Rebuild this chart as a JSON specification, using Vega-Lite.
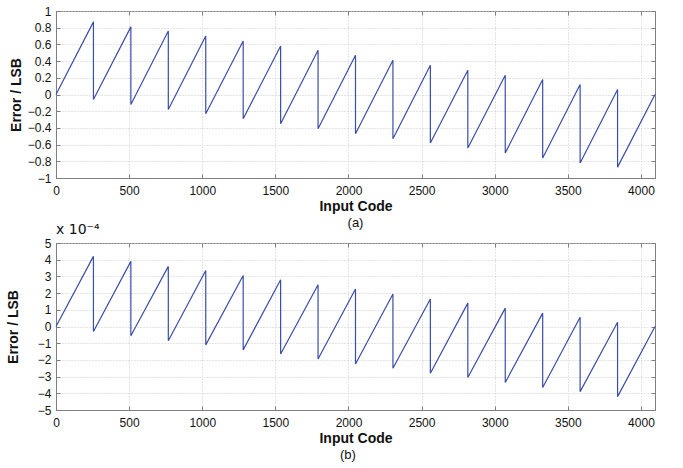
{
  "$schema": "https://vega.github.io/schema/vega-lite/v6.json",
  "padding": {"left": 5, "top": 4, "right": 10, "bottom": 4},
  "background": "white",
  "spacing": -9,
  "datasets": {
    "a": [
      {"i": 0, "code": 0, "err": 0},
      {"i": 1, "code": 256, "err": 0.87}, {"i": 2, "code": 256, "err": -0.06},
      {"i": 3, "code": 512, "err": 0.81}, {"i": 4, "code": 512, "err": -0.12},
      {"i": 5, "code": 768, "err": 0.76}, {"i": 6, "code": 768, "err": -0.18},
      {"i": 7, "code": 1024, "err": 0.70}, {"i": 8, "code": 1024, "err": -0.23},
      {"i": 9, "code": 1280, "err": 0.64}, {"i": 10, "code": 1280, "err": -0.29},
      {"i": 11, "code": 1536, "err": 0.58}, {"i": 12, "code": 1536, "err": -0.35},
      {"i": 13, "code": 1792, "err": 0.53}, {"i": 14, "code": 1792, "err": -0.41},
      {"i": 15, "code": 2048, "err": 0.47}, {"i": 16, "code": 2048, "err": -0.47},
      {"i": 17, "code": 2304, "err": 0.41}, {"i": 18, "code": 2304, "err": -0.53},
      {"i": 19, "code": 2560, "err": 0.35}, {"i": 20, "code": 2560, "err": -0.58},
      {"i": 21, "code": 2816, "err": 0.29}, {"i": 22, "code": 2816, "err": -0.64},
      {"i": 23, "code": 3072, "err": 0.23}, {"i": 24, "code": 3072, "err": -0.70},
      {"i": 25, "code": 3328, "err": 0.18}, {"i": 26, "code": 3328, "err": -0.76},
      {"i": 27, "code": 3584, "err": 0.12}, {"i": 28, "code": 3584, "err": -0.82},
      {"i": 29, "code": 3840, "err": 0.06}, {"i": 30, "code": 3840, "err": -0.87},
      {"i": 31, "code": 4096, "err": 0}
    ],
    "b": [
      {"i": 0, "code": 0, "err": 0},
      {"i": 1, "code": 256, "err": 0.00042}, {"i": 2, "code": 256, "err": -0.00003},
      {"i": 3, "code": 512, "err": 0.00039}, {"i": 4, "code": 512, "err": -0.000055},
      {"i": 5, "code": 768, "err": 0.00036}, {"i": 6, "code": 768, "err": -0.000085},
      {"i": 7, "code": 1024, "err": 0.000335}, {"i": 8, "code": 1024, "err": -0.00011},
      {"i": 9, "code": 1280, "err": 0.000305}, {"i": 10, "code": 1280, "err": -0.00014},
      {"i": 11, "code": 1536, "err": 0.00028}, {"i": 12, "code": 1536, "err": -0.000165},
      {"i": 13, "code": 1792, "err": 0.00025}, {"i": 14, "code": 1792, "err": -0.000195},
      {"i": 15, "code": 2048, "err": 0.000225}, {"i": 16, "code": 2048, "err": -0.000225},
      {"i": 17, "code": 2304, "err": 0.000195}, {"i": 18, "code": 2304, "err": -0.00025},
      {"i": 19, "code": 2560, "err": 0.000165}, {"i": 20, "code": 2560, "err": -0.00028},
      {"i": 21, "code": 2816, "err": 0.00014}, {"i": 22, "code": 2816, "err": -0.000305},
      {"i": 23, "code": 3072, "err": 0.00011}, {"i": 24, "code": 3072, "err": -0.000335},
      {"i": 25, "code": 3328, "err": 0.00008}, {"i": 26, "code": 3328, "err": -0.000365},
      {"i": 27, "code": 3584, "err": 0.000055}, {"i": 28, "code": 3584, "err": -0.00039},
      {"i": 29, "code": 3840, "err": 0.000025}, {"i": 30, "code": 3840, "err": -0.00042},
      {"i": 31, "code": 4096, "err": 0}
    ]
  },
  "config": {
    "font": "Liberation Sans",
    "view": {"stroke": "#7f7f7f", "strokeWidth": 1},
    "axis": {
      "labelFont": "Liberation Sans",
      "labelFontSize": 12,
      "labelColor": "#111",
      "labelOverlap": false,
      "titleFont": "Liberation Sans",
      "titleFontSize": 14,
      "titleFontWeight": "bold",
      "titleColor": "#111",
      "domainColor": "#7f7f7f",
      "tickColor": "#7f7f7f",
      "tickSize": -4,
      "labelPadding": 9,
      "grid": true,
      "gridColor": "#c8c8c8",
      "gridDash": [1, 2],
      "gridWidth": 1
    }
  },
  "title": {"text": "(b)", "orient": "bottom", "anchor": "middle", "fontSize": 13, "fontWeight": "normal", "font": "Liberation Sans", "color": "#111", "dx": 16, "offset": 3},
  "vconcat": [
    {
      "width": 599,
      "height": 167,
      "data": {"name": "a"},
      "title": {"text": "(a)", "orient": "bottom", "frame": "group", "anchor": "middle", "fontSize": 13, "fontWeight": "normal", "color": "#111", "offset": 4},
      "layer": [
        {
          "mark": {"type": "line", "color": "#3b4ea8", "strokeWidth": 1.2},
          "encoding": {
            "x": {"field": "code", "type": "quantitative", "scale": {"domain": [0, 4096], "nice": false}, "axis": {"title": "Input Code", "values": [0, 500, 1000, 1500, 2000, 2500, 3000, 3500, 4000], "format": "d", "titlePadding": 3, "labelPadding": 11, "labelFlush": false}},
            "y": {"field": "err", "type": "quantitative", "scale": {"domain": [-1, 1], "nice": false}, "axis": {"title": "Error / LSB", "values": [-1, -0.8, -0.6, -0.4, -0.2, 0, 0.2, 0.4, 0.6, 0.8, 1], "format": "~g", "titlePadding": 4, "labelFlush": false}},
            "order": {"field": "i", "type": "quantitative"}
          }
        },
        {
          "mark": {"type": "line", "opacity": 0},
          "encoding": {
            "x": {"field": "code", "type": "quantitative", "scale": {"domain": [0, 4096], "nice": false}, "axis": {"orient": "top", "title": null, "labels": false, "grid": false, "domain": false, "values": [0, 500, 1000, 1500, 2000, 2500, 3000, 3500, 4000]}},
            "y": {"field": "err", "type": "quantitative", "scale": {"domain": [-1, 1], "nice": false}, "axis": {"orient": "right", "title": null, "labels": false, "grid": false, "domain": false, "values": [-1, -0.8, -0.6, -0.4, -0.2, 0, 0.2, 0.4, 0.6, 0.8, 1]}},
            "order": {"field": "i", "type": "quantitative"}
          }
        }
      ],
      "resolve": {"axis": {"x": "independent", "y": "independent"}}
    },
    {
      "width": 599,
      "height": 167,
      "data": {"name": "b"},
      "title": {"text": "x 10⁻⁴", "orient": "top", "frame": "group", "anchor": "start", "fontSize": 14, "fontWeight": "normal", "font": "DejaVu Sans", "color": "#111", "offset": 0},
      "layer": [
        {
          "mark": {"type": "line", "color": "#3b4ea8", "strokeWidth": 1.2},
          "encoding": {
            "x": {"field": "code", "type": "quantitative", "scale": {"domain": [0, 4096], "nice": false}, "axis": {"title": "Input Code", "values": [0, 500, 1000, 1500, 2000, 2500, 3000, 3500, 4000], "format": "d", "titlePadding": 3, "labelPadding": 11, "labelFlush": false}},
            "y": {"field": "err", "type": "quantitative", "scale": {"domain": [-0.0005, 0.0005], "nice": false}, "axis": {"title": "Error / LSB", "values": [-0.0005, -0.0004, -0.0003, -0.0002, -0.0001, 0, 0.0001, 0.0002, 0.0003, 0.0004, 0.0005], "labelExpr": "format(round(datum.value*10000), 'd')", "titlePadding": 17, "labelFlush": false}},
            "order": {"field": "i", "type": "quantitative"}
          }
        },
        {
          "mark": {"type": "line", "opacity": 0},
          "encoding": {
            "x": {"field": "code", "type": "quantitative", "scale": {"domain": [0, 4096], "nice": false}, "axis": {"orient": "top", "title": null, "labels": false, "grid": false, "domain": false, "values": [0, 500, 1000, 1500, 2000, 2500, 3000, 3500, 4000]}},
            "y": {"field": "err", "type": "quantitative", "scale": {"domain": [-0.0005, 0.0005], "nice": false}, "axis": {"orient": "right", "title": null, "labels": false, "grid": false, "domain": false, "values": [-0.0005, -0.0004, -0.0003, -0.0002, -0.0001, 0, 0.0001, 0.0002, 0.0003, 0.0004, 0.0005]}},
            "order": {"field": "i", "type": "quantitative"}
          }
        }
      ],
      "resolve": {"axis": {"x": "independent", "y": "independent"}}
    }
  ]
}
